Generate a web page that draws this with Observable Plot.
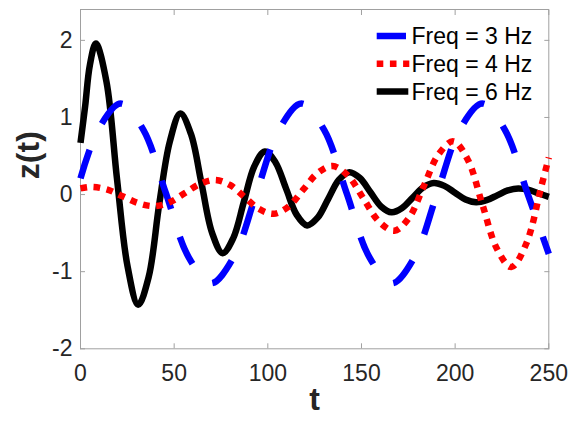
<!DOCTYPE html>
<html>
<head>
<meta charset="utf-8">
<script src="https://cdn.jsdelivr.net/npm/d3@7"></script>
<script src="https://cdn.jsdelivr.net/npm/@observablehq/plot@0.6"></script>
<style>
  html, body { margin: 0; padding: 0; background: white; }
  #chart { position: relative; width: 571px; height: 421px; }
</style>
</head>
<body>
<div id="chart"></div>
<script>
// ---- data ----
const xTicks = [0, 50, 100, 150, 200, 250];
const yTicks = [-2, -1, 0, 1, 2];

const seriesNames = ["Freq = 3 Hz", "Freq = 4 Hz", "Freq = 6 Hz"];

// Freq = 3 Hz (blue dashed)
const tBlue = [0, 9.44, 21.5, 33.56, 45.63, 57.69, 69.75, 81.81, 93.88, 105.94, 118, 130.06, 142.13, 154.19, 166.25, 178.31, 190.38, 202.44, 214.5, 226.56, 238.63, 250];
const zBlue = [0.21, 0.84, 1.18, 0.84, 0.015, -0.81, -1.15, -0.81, 0.015, 0.84, 1.18, 0.84, 0.015, -0.81, -1.15, -0.81, 0.015, 0.84, 1.18, 0.84, 0.015, -0.77];

// Freq = 4 Hz (red dotted)
const tRed = [0, 6, 14.4, 22.75, 31.1, 39.5, 47.6, 55.75, 63.9, 72, 79.75, 87.5, 95.25, 103, 110.9, 118.75, 126.6, 134.5, 142.75, 151, 159.25, 167.5, 175.4, 183.25, 191.1, 199, 206.75, 214.5, 222.25, 230, 238, 246, 250];
const zRed = [0.08, 0.10, 0.064, -0.025, -0.113, -0.15, -0.10, 0.02, 0.14, 0.19, 0.126, -0.03, -0.186, -0.25, -0.16, 0.06, 0.28, 0.37, 0.246, -0.05, -0.347, -0.47, -0.30, 0.11, 0.52, 0.69, 0.452, -0.125, -0.70, -0.94, -0.635, 0.105, 0.48];

// Freq = 6 Hz (black solid)
const tBlack = [0, 2.5, 5, 8.2, 13.85, 19.5, 25.15, 30.8, 36.4, 42.05, 47.7, 53.3, 58.95, 64.6, 70.25, 75.9, 81.5, 87.15, 92.8, 98.4, 104.05, 109.7, 115.35, 121, 126.6, 132.25, 137.9, 143.5, 149.15, 154.8, 160.45, 166.1, 171.7, 177.35, 183, 188.6, 194.25, 199.9, 205.55, 211.2, 216.8, 222.45, 228.1, 233.7, 239.35, 245, 250];
const zBlack = [0.67, 1.15, 1.68, 1.96, 1.465, 0.2, -0.935, -1.43, -1.068, -0.12, 0.688, 1.05, 0.786, 0.145, -0.496, -0.76, -0.567, -0.10, 0.367, 0.56, 0.42, 0.08, -0.26, -0.40, -0.30, -0.055, 0.19, 0.29, 0.214, 0.03, -0.154, -0.23, -0.174, -0.04, 0.094, 0.15, 0.113, 0.025, -0.063, -0.10, -0.073, -0.01, 0.054, 0.08, 0.06, 0.01, -0.03];

// ---- build tables ----
const blue = tBlue.map((t, i) => ({t, z: zBlue[i]}));
const red = tRed.map((t, i) => ({t, z: zRed[i]}));
const black = tBlack.map((t, i) => ({t, z: zBlack[i]}));

const font = "'Liberation Sans', Arial, Helvetica, sans-serif";
const axisGray = "#a0a0a0";
const textColor = "#262626";

const styles = [
  {color: "#0000ff", dash: "30,29", legendLen: 29.3},
  {color: "#ff0000", dash: "6.6,6.6", legendLen: 32.6},
  {color: "#000000", dash: null, legendLen: 31.6}
];

const chart = Plot.plot({
  width: 571,
  height: 421,
  marginLeft: 80,
  marginRight: 22.7,
  marginTop: 9,
  marginBottom: 72.7,
  x: {domain: [0, 250]},
  y: {domain: [-2, 2.4]},
  style: {fontFamily: font, fontSize: "23px", background: "white", color: textColor},
  marks: [
    Plot.frame({stroke: axisGray, strokeWidth: 1}),
    Plot.axisX(xTicks, {anchor: "bottom", tickSize: -5, tickPadding: 21, stroke: axisGray, fill: textColor, label: null, fontSize: 23, tickFormat: d => String(d)}),
    Plot.axisX(xTicks, {anchor: "top", tickSize: -5, stroke: axisGray, fill: "none", label: null}),
    Plot.axisY(yTicks, {anchor: "left", tickSize: -5, tickPadding: 13, stroke: axisGray, fill: textColor, label: null, fontSize: 23, tickFormat: d => String(d)}),
    Plot.axisY(yTicks, {anchor: "right", tickSize: -5, stroke: axisGray, fill: "none", label: null}),
    Plot.line(black, {x: "t", y: "z", stroke: styles[2].color, strokeWidth: 6.5, curve: "catmull-rom", strokeLinecap: "butt", strokeLinejoin: "round"}),
    Plot.line(blue, {x: "t", y: "z", stroke: styles[0].color, strokeWidth: 6.5, strokeDasharray: styles[0].dash, curve: "catmull-rom", strokeLinecap: "butt"}),
    Plot.line(red, {x: "t", y: "z", stroke: styles[1].color, strokeWidth: 6.5, strokeDasharray: styles[1].dash, curve: "catmull-rom", strokeLinecap: "butt"}),
    Plot.text(["t"], {frameAnchor: "bottom", dy: 61, fontSize: 32, fontWeight: "bold", fill: textColor}),
    Plot.text(["z(t)"], {frameAnchor: "left", dx: -52, rotate: -90, fontSize: 32, fontWeight: "bold", fill: textColor})
  ]
});

// ---- legend (no box), drawn into the same SVG ----
const svg = d3.select(chart);
const leg = svg.append("g")
  .attr("font-family", font)
  .attr("font-size", 23)
  .attr("text-anchor", "start")
  .attr("fill", "#000");
seriesNames.forEach((name, i) => {
  const cy = 36 + i * 27.8;
  const s = styles[i];
  leg.append("line")
    .attr("x1", 376.7).attr("x2", 376.7 + s.legendLen)
    .attr("y1", cy).attr("y2", cy)
    .attr("stroke", s.color)
    .attr("stroke-width", 6.5)
    .attr("stroke-dasharray", i === 1 ? s.dash : null)
    .attr("stroke-linecap", "butt");
  leg.append("text")
    .attr("x", 411.5)
    .attr("y", cy + 8.3)
    .attr("text-anchor", "start")
    .text(name);
});

document.getElementById("chart").appendChild(chart);
</script>
</body>
</html>
